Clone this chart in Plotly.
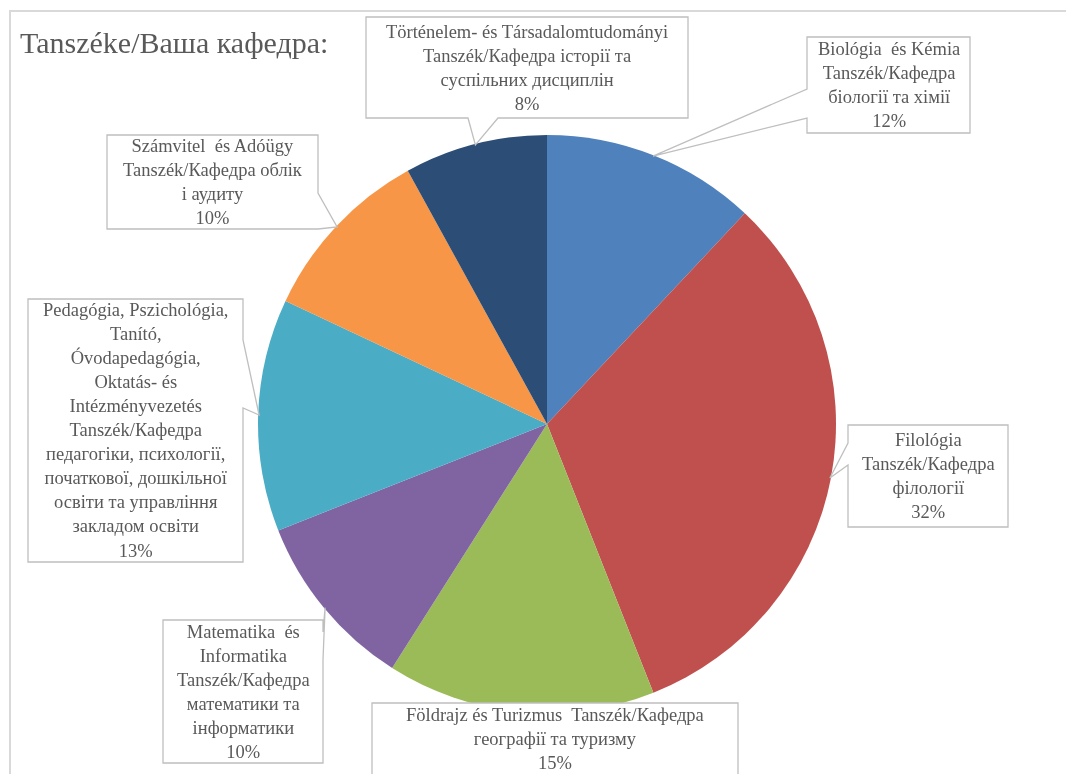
import math
import plotly.graph_objects as go

# data
departments = [
    "Biológia  és Kémia<br>Tanszék/Кафедра<br>біології та хімії",
    "Filológia<br>Tanszék/Кафедра<br>філології",
    "Földrajz és Turizmus  Tanszék/Кафедра<br>географії та туризму",
    "Matematika  és<br>Informatika<br>Tanszék/Кафедра<br>математики та<br>інформатики",
    "Pedagógia, Pszichológia,<br>Tanító,<br>Óvodapedagógia,<br>Oktatás- és<br>Intézményvezetés<br>Tanszék/Кафедра<br>педагогіки, психології,<br>початкової, дошкільної<br>освіти та управління<br>закладом освіти",
    "Számvitel  és Adóügy<br>Tanszék/Кафедра облік<br>і аудиту",
    "Történelem- és Társadalomtudományi<br>Tanszék/Кафедра історії та<br>суспільних дисциплін",
]
shares = [12, 32, 15, 10, 13, 10, 8]
colors = ["#4F81BD", "#C0504D", "#9BBB59", "#8064A2", "#4BACC6", "#F79646", "#2C4D75"]

W, H = 1074, 774
OFF = 8  # page body margin in px
cx, cy, r = 547, 424, 289  # pie centre / radius in page px

# callout boxes (page px): x0, y0, x1, y1, side of pointer, pointer base
boxes = [
    (807, 37, 970, 133, "left", (89, 118)),
    (848, 425, 1008, 527, "left", (443, 465)),
    (372, 703, 738, 775, None, None),
    (163, 620, 323, 763, "right", (632, 660)),
    (28, 299, 243, 562, "right", (340, 408)),
    (107, 135, 318, 229, "right", (193, 229)),
    (366, 17, 688, 118, "bottom", (468, 498)),
]

fig = go.Figure()
fig.add_trace(go.Pie(
    values=shares, labels=[d.replace("<br>", " ") for d in departments],
    marker=dict(colors=colors, line=dict(width=0)),
    sort=False, direction="clockwise", rotation=0,
    textinfo="none", hoverinfo="label+percent", showlegend=False,
    domain=dict(x=[(cx - r - OFF) / W, (cx + r - OFF) / W],
                y=[1 - (cy + r - OFF) / H, 1 - (cy - r - OFF) / H]),
))
# invisible pixel axes for shapes / text
fig.add_trace(go.Scatter(x=[OFF, W + OFF], y=[OFF, H + OFF], mode="markers", opacity=0,
                         hoverinfo="skip", showlegend=False))

total = sum(shares)
cum = 0
shapes = []
annotations = []
for name, v, (x0, y0, x1, y1, side, base) in zip(departments, shares, boxes):
    a = 2 * math.pi * (cum + v / 2) / total
    cum += v
    tx = cx + (r - 1) * math.sin(a)
    ty = cy - (r - 1) * math.cos(a)
    pts = [(x0, y0)]
    if side == "top":
        pts += [(base[0], y0), (tx, ty), (base[1], y0)]
    pts.append((x1, y0))
    if side == "right":
        pts += [(x1, base[0]), (tx, ty), (x1, base[1])]
    pts.append((x1, y1))
    if side == "bottom":
        pts += [(base[1], y1), (tx, ty), (base[0], y1)]
    pts.append((x0, y1))
    if side == "left":
        pts += [(x0, base[1]), (tx, ty), (x0, base[0])]
    path = "M " + " L ".join(f"{px:.1f},{py:.1f}" for px, py in pts) + " Z"
    shapes.append(dict(type="path", path=path, xref="x", yref="y", layer="above",
                       fillcolor="white", line=dict(color="#BFBFBF", width=1.3)))
    annotations.append(dict(
        x=(x0 + x1) / 2, y=(y0 + y1) / 2, xref="x", yref="y",
        text=f"{name}<br>{v}%", showarrow=False, align="center",
        xanchor="center", yanchor="middle",
        font=dict(family="Liberation Serif", size=18.5, color="#595959"),
    ))

# chart area border (top and left edges only visible)
shapes.insert(0, dict(type="path", path=f"M 10,{H + 20} L 10,11 L {W + 20},11",
                      xref="x", yref="y", layer="below",
                      line=dict(color="#D9D9D9", width=2)))

annotations.append(dict(
    x=18, y=42, xref="x", yref="y", text="Tanszéke/Ваша кафедра:", showarrow=False,
    xanchor="left", yanchor="middle",
    font=dict(family="Liberation Serif", size=30, color="#595959"),
))

fig.update_layout(
    width=W, height=H,
    margin=dict(l=0, r=0, t=0, b=0),
    paper_bgcolor="white", plot_bgcolor="white",
    xaxis=dict(range=[OFF, W + OFF], visible=False, fixedrange=True),
    yaxis=dict(range=[H + OFF, OFF], visible=False, fixedrange=True),
    shapes=shapes, annotations=annotations,
)

fig.write_html("out.html")
